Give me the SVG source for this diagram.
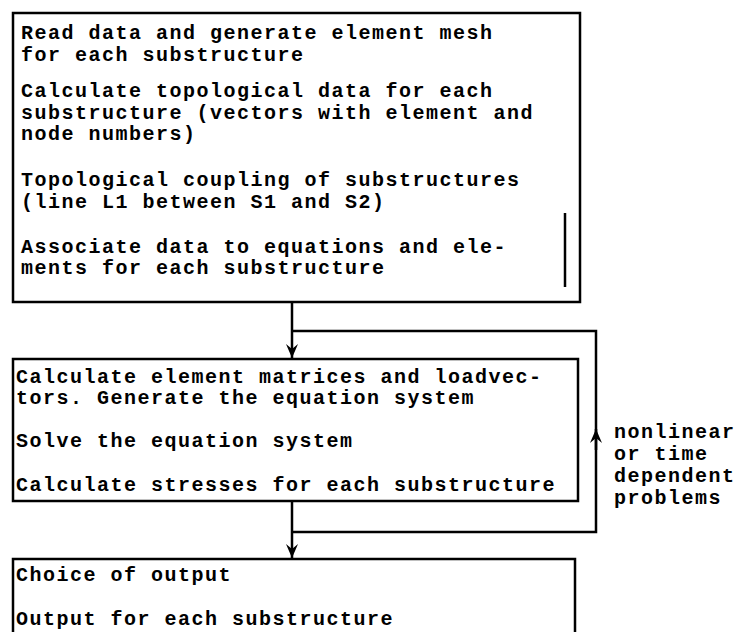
<svg xmlns="http://www.w3.org/2000/svg" width="745" height="632" viewBox="0 0 745 632">
<style>
.box{fill:#fff;stroke:#000;stroke-width:2.5}
.t{font-family:"Liberation Mono","DejaVu Sans Mono",monospace;font-size:20px;font-weight:bold;letter-spacing:1.5px;fill:#000}
.c{fill:none;stroke:#000;stroke-width:2.5}
</style>
<defs>
<marker id="ah" viewBox="0 0 14 12" refX="14" refY="6" markerWidth="14" markerHeight="12" markerUnits="userSpaceOnUse" orient="auto">
<path d="M0,0 L14,6 L0,12 L5,6 Z" fill="#000"/>
</marker>
</defs>
<g id="connectors">
<line class="c" x1="292" y1="302" x2="292" y2="358" marker-end="url(#ah)"/>
<line class="c" x1="292" y1="501" x2="292" y2="558" marker-end="url(#ah)"/>
<path class="c" d="M292,532 H596 V331 H292"/>
<line class="c" x1="596" y1="450" x2="596" y2="429" marker-end="url(#ah)"/>
</g>
<g id="box1">
<rect class="box" x="13" y="13" width="567" height="289"/>
<line x1="565" y1="213" x2="565" y2="287" stroke="#000" stroke-width="2.5"/>
<text class="t" x="21" y="39">Read data and generate element mesh</text>
<text class="t" x="21" y="61">for each substructure</text>
<text class="t" x="21" y="97">Calculate topological data for each</text>
<text class="t" x="21" y="119">substructure (vectors with element and</text>
<text class="t" x="21" y="140">node numbers)</text>
<text class="t" x="21" y="186">Topological coupling of substructures</text>
<text class="t" x="21" y="208">(line L1 between S1 and S2)</text>
<text class="t" x="21" y="253">Associate data to equations and ele-</text>
<text class="t" x="21" y="274">ments for each substructure</text>
</g>
<g id="box2">
<rect class="box" x="13" y="359" width="565" height="142"/>
<text class="t" x="16" y="383">Calculate element matrices and loadvec-</text>
<text class="t" x="16" y="404">tors. Generate the equation system</text>
<text class="t" x="16" y="447">Solve the equation system</text>
<text class="t" x="16" y="491">Calculate stresses for each substructure</text>
</g>
<g id="box3">
<rect class="box" x="13" y="559" width="562" height="90"/>
<text class="t" x="16" y="581">Choice of output</text>
<text class="t" x="16" y="625">Output for each substructure</text>
</g>
<g id="label">
<text class="t" x="614" y="438">nonlinear</text>
<text class="t" x="614" y="460">or time</text>
<text class="t" x="614" y="482">dependent</text>
<text class="t" x="614" y="504">problems</text>
</g>
</svg>
